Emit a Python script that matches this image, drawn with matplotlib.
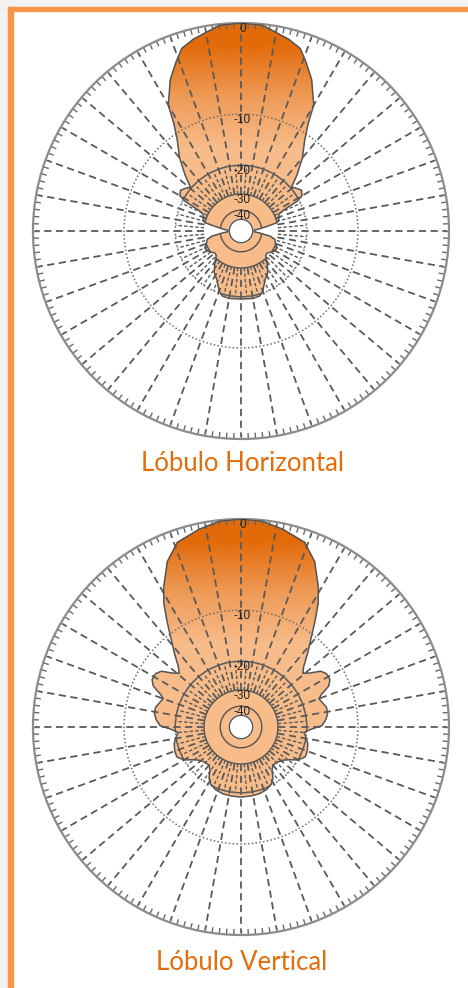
import numpy as np
import matplotlib
matplotlib.use("Agg")
import matplotlib.pyplot as plt
from matplotlib.colors import LinearSegmentedColormap
from matplotlib.patches import Rectangle

W, H = 468, 988
DPI = 100

# ring levels (dB) and the blank hole in the middle
RING_DB = [0, -10, -20, -30, -40]
HOLE_DB = -50

# right half of each pattern: angle from boresight (deg) -> level (dB)
h_angle = [0, 6, 14, 18, 21, 25, 28, 30, 32, 35, 40, 45, 49, 52, 56, 60, 62,
           64, 66, 70, 74, 77, 80, 84, 88, 90, 92, 96, 100, 104, 108, 115,
           120, 124, 130, 135, 140, 147, 154, 160, 164, 170, 180]
h_db = [0, -0.1, -0.9, -1.4, -2.4, -3.8, -5.3, -6.2, -8.6, -10.9, -13.5,
        -16.8, -19.7, -19.0, -18.2, -18.8, -20.5, -26, -28, -28.5, -29, -30,
        -36, -43, -50, -50, -50, -42, -34, -31, -30.5, -28.7, -29, -29.8,
        -31.4, -31, -28.4, -25, -23.2, -20.5, -19.5, -19.3, -19.4]

v_angle = [0, 6, 12, 19, 24, 29, 32, 35, 38, 42, 46, 49, 52, 55, 58, 62, 65,
           68, 70, 73, 77, 81, 85, 89, 92, 95, 99, 104, 110, 115, 120, 124,
           128, 134, 140, 144, 148, 152, 158, 165, 172, 180]
v_db = [0, -0.1, -0.5, -1.1, -2.4, -4.6, -6.2, -8.3, -10.4, -12.8, -15.1,
        -16.2, -15, -13.2, -12.6, -12.6, -13.3, -15.2, -16, -15.6, -15, -15,
        -15.5, -16.4, -19, -20.7, -20, -19.2, -18.8, -18.7, -20, -22, -23.5,
        -24.6, -24.8, -23.8, -21.5, -20.3, -19.5, -19.1, -19, -18.9]

TITLES = ["Lóbulo Horizontal", "Lóbulo Vertical"]

DARK = "#E26A09"
LIGHT = "#F7BC8A"
EDGE = "#555555"
cmap = LinearSegmentedColormap.from_list("lobe", [LIGHT, "#EE9A56", DARK])


def to_r(db):
    return 10 ** (np.asarray(db, float) / 40.0)


def draw_lobe(ax, ang, db):
    ang = np.asarray(ang, float)
    db = np.asarray(db, float)
    theta = np.deg2rad(np.concatenate([ang, 360 - ang[::-1][1:]]))
    r = to_r(np.concatenate([db, db[::-1][1:]]))

    ax.set_theta_zero_location("N")
    ax.set_theta_direction(-1)
    ax.set_ylim(0, 1)
    ax.grid(False)
    ax.set_xticks([])
    ax.set_yticks([])
    ax.spines["polar"].set_color("#8c8c8c")
    ax.spines["polar"].set_linewidth(1.6)

    patch = ax.fill(theta, r, facecolor=LIGHT, edgecolor="none", zorder=1)[0]

    # vertical colour gradient, clipped to the lobe
    tg = np.linspace(0, 2 * np.pi, 361)
    rg = np.linspace(0, 1, 120)
    T, R = np.meshgrid(tg, rg)
    mesh = ax.pcolormesh(T, R, R * np.cos(T), cmap=cmap, vmin=0.40, vmax=0.90,
                         shading="gouraud", zorder=1.2)
    mesh.set_clip_path(patch)

    # solid rings inside the lobe
    for d in [-20, -30, -40]:
        ln, = ax.plot(tg, np.full_like(tg, to_r(d)), color=EDGE, lw=1.0, zorder=2)
        ln.set_clip_path(patch)
    # dotted rings
    for d in [-10, -20]:
        ax.plot(tg, np.full_like(tg, to_r(d)), color="#6e6e6e", lw=1.1,
                ls=(0, (1, 1.5)), zorder=2.2)

    # radial dashed lines
    for a in range(0, 360, 10):
        t = np.deg2rad(a)
        ax.plot([t, t], [to_r(-30), 0.99], color="#5a5a5a", lw=1.3,
                dashes=(4, 2.5), zorder=2.5)
    for a in range(5, 360, 10):
        t = np.deg2rad(a)
        ax.plot([t, t], [to_r(-30), to_r(-20)], color="#5a5a5a", lw=1.0,
                dashes=(2.5, 1.5), zorder=2.5)

    # rim ticks every 2 degrees
    ax.vlines(np.deg2rad(np.arange(0, 360, 2)), 0.972, 1.0, colors="#6a6a6a",
              lw=1.0, zorder=2.5)

    ax.plot(np.append(theta, theta[0]), np.append(r, r[0]), color=EDGE,
            lw=1.1, zorder=3)

    # white hole
    ax.fill(tg, np.full_like(tg, to_r(HOLE_DB)), color="white", zorder=4)
    ax.plot(tg, np.full_like(tg, to_r(HOLE_DB)), color=EDGE, lw=1.0, zorder=4)

    for d in RING_DB:
        ax.annotate(str(d), xy=(0, to_r(d)), xytext=(1.5, -6),
                    textcoords="offset pixels", ha="center", va="center",
                    fontsize=8.5, family="Liberation Sans", color="#222222",
                    zorder=5)


fig = plt.figure(figsize=(W / DPI, H / DPI), dpi=DPI)
fig.patch.set_facecolor("white")

# page frame
fig.add_artist(Rectangle((0, 0), 8 / W, 1, transform=fig.transFigure,
                         color="#f2f2f2", zorder=0))
fig.add_artist(Rectangle((0, 1 - 7 / H), 1, 7 / H, transform=fig.transFigure,
                         color="#f2f2f2", zorder=0))
fig.add_artist(Rectangle((8 / W, 0), 4.5 / W, 1 - 7 / H,
                         transform=fig.transFigure, color="#F79646", zorder=0))
fig.add_artist(Rectangle((8 / W, 1 - 11.5 / H), 1 - 8 / W, 4.5 / H,
                         transform=fig.transFigure, color="#F79646", zorder=0))

RADIUS = 208
for cy, ang, db, title, ty in [(231, h_angle, h_db, TITLES[0], 463),
                               (727, v_angle, v_db, TITLES[1], 962)]:
    ax = fig.add_axes([(241 - RADIUS) / W, (H - cy - RADIUS) / H,
                       2 * RADIUS / W, 2 * RADIUS / H], projection="polar")
    ax.set_facecolor("white")
    draw_lobe(ax, ang, db)
    fig.text(242 / W, 1 - ty / H, title, ha="center", va="center",
             color="#E46C0A", fontsize=18.5, family="Lato")

fig.savefig("out.png", dpi=DPI)
